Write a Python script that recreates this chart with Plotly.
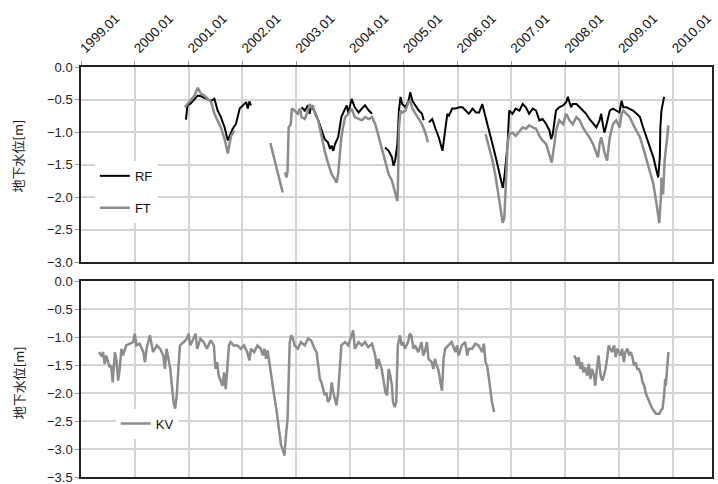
import plotly.graph_objects as go

# ---------------- data (decimal year, groundwater level m) ----------------
tick_years = [1999, 2000, 2001, 2002, 2003, 2004, 2005, 2006, 2007, 2008, 2009, 2010]
tick_labels = ["1999.01", "2000.01", "2001.01", "2002.01", "2003.01", "2004.01",
               "2005.01", "2006.01", "2007.01", "2008.01", "2009.01", "2010.01"]

rf_year = [2000.95, 2000.98, 2001.04, 2001.11, 2001.17, 2001.23, 2001.29, 2001.35, 2001.42, 2001.48,
           2001.54, 2001.60, 2001.67, 2001.73, 2001.76, 2001.82, 2001.88, 2001.95, 2002.01, 2002.07,
           2002.10, 2002.13, 2002.16, None,
           2003.10, 2003.16, 2003.22, 2003.25, 2003.28, 2003.35, 2003.41, 2003.47, 2003.53, 2003.59,
           2003.63, 2003.66, 2003.69, 2003.72, 2003.78, 2003.81, 2003.84, 2003.91, 2003.94, 2003.97,
           2004.03, 2004.09, 2004.16, 2004.22, 2004.28, 2004.35, 2004.41, None,
           2004.65, 2004.72, 2004.78, 2004.81, 2004.84, 2004.88, 2004.91, 2004.94, 2004.97, 2005.03,
           2005.09, 2005.12, 2005.16, 2005.22, 2005.28, 2005.34, 2005.37, None,
           2005.47, 2005.53, 2005.59, 2005.65, 2005.72, 2005.75, 2005.78, 2005.81, 2005.84, 2005.90,
           2005.96, 2006.03, 2006.09, 2006.15, 2006.21, 2006.28, 2006.34, 2006.40, 2006.46, 2006.52,
           2006.59, 2006.65, 2006.71, 2006.77, 2006.84, 2006.87, 2006.90, 2006.93, 2006.96, 2007.02,
           2007.08, 2007.15, 2007.21, 2007.27, 2007.33, 2007.40, 2007.46, 2007.52, 2007.58, 2007.65,
           2007.71, 2007.74, 2007.77, 2007.80, 2007.83, 2007.89, 2007.96, 2008.02, 2008.05, 2008.08,
           2008.11, 2008.14, 2008.21, 2008.27, 2008.33, 2008.39, 2008.45, 2008.52, 2008.58, 2008.64,
           2008.67, 2008.70, 2008.73, 2008.77, 2008.83, 2008.89, 2008.95, 2009.01, 2009.05, 2009.08,
           2009.14, 2009.20, 2009.26, 2009.33, 2009.39, 2009.45, 2009.51, 2009.57, 2009.64, 2009.70,
           2009.73, 2009.76, 2009.77, 2009.79, 2009.82, 2009.84]
rf_level = [-0.81, -0.59, -0.56, -0.49, -0.44, -0.45, -0.47, -0.49, -0.52, -0.49,
            -0.67, -0.77, -0.93, -1.13, -1.06, -0.95, -0.88, -0.64, -0.59, -0.54,
            -0.64, -0.53, -0.59, None,
            -0.62, -0.67, -0.59, -0.72, -0.59, -0.70, -0.82, -0.98, -1.11, -1.16,
            -1.26, -1.21, -1.29, -1.19, -1.08, -0.93, -0.77, -0.64, -0.59, -0.72,
            -0.49, -0.62, -0.70, -0.64, -0.59, -0.67, -0.72, None,
            -1.24, -1.29, -1.39, -1.52, -1.44, -1.19, -0.67, -0.46, -0.57, -0.62,
            -0.52, -0.39, -0.52, -0.59, -0.67, -0.72, -0.82, None,
            -0.85, -0.80, -0.95, -1.08, -1.29, -1.08, -0.88, -0.72, -0.75, -0.64,
            -0.64, -0.62, -0.62, -0.67, -0.72, -0.64, -0.70, -0.70, -0.57, -0.77,
            -0.98, -1.19, -1.39, -1.60, -1.86, -1.70, -1.44, -1.19, -0.67, -0.72,
            -0.64, -0.67, -0.57, -0.62, -0.72, -0.64, -0.67, -0.82, -0.80, -0.88,
            -0.98, -1.11, -1.03, -0.82, -0.67, -0.62, -0.59, -0.54, -0.46, -0.54,
            -0.62, -0.57, -0.57, -0.62, -0.67, -0.72, -0.80, -0.88, -0.93, -0.82,
            -0.72, -0.88, -1.01, -0.88, -0.67, -0.64, -0.67, -0.70, -0.52, -0.62,
            -0.62, -0.64, -0.67, -0.72, -0.77, -0.93, -1.08, -1.24, -1.39, -1.60,
            -1.70, -1.39, -0.93, -0.67, -0.54, -0.46]

ft_year = [2000.93, 2000.98, 2001.04, 2001.11, 2001.17, 2001.23, 2001.29, 2001.35, 2001.42, 2001.48,
           2001.54, 2001.60, 2001.67, 2001.73, 2001.76, 2001.79, 2001.85, None,
           2002.52, 2002.75, None,
           2002.79, 2002.82, 2002.84, 2002.86, 2002.90, 2002.92, 2002.97, 2003.00, 2003.03, 2003.07,
           2003.10, 2003.16, 2003.22, 2003.25, 2003.28, 2003.31, 2003.35, 2003.41, 2003.47, 2003.53,
           2003.59, 2003.66, 2003.72, 2003.75, 2003.78, 2003.81, 2003.84, 2003.87, 2003.91, 2003.97,
           2004.03, 2004.09, 2004.16, 2004.22, 2004.28, 2004.35, 2004.41, 2004.47, 2004.53, 2004.60,
           2004.66, 2004.72, 2004.78, 2004.84, 2004.88, 2004.89, 2004.91, 2004.94, 2004.97, 2005.03,
           2005.09, 2005.12, 2005.16, 2005.22, 2005.28, 2005.34, 2005.40, 2005.45, None,
           2006.52, 2006.59, 2006.65, 2006.71, 2006.77, 2006.80, 2006.84, 2006.87, 2006.90, 2006.93,
           2006.96, 2007.02, 2007.08, 2007.15, 2007.21, 2007.27, 2007.33, 2007.40, 2007.46, 2007.52,
           2007.58, 2007.65, 2007.71, 2007.75, 2007.80, 2007.83, 2007.89, 2007.96, 2008.02, 2008.08,
           2008.14, 2008.21, 2008.27, 2008.33, 2008.39, 2008.45, 2008.52, 2008.58, 2008.61, 2008.64,
           2008.67, 2008.70, 2008.73, 2008.78, 2008.83, 2008.89, 2008.95, 2009.01, 2009.05, 2009.08,
           2009.14, 2009.20, 2009.26, 2009.33, 2009.39, 2009.45, 2009.51, 2009.57, 2009.64, 2009.70,
           2009.75, 2009.78, 2009.79, 2009.82, 2009.85, 2009.89, 2009.92]
ft_level = [-0.62, -0.57, -0.52, -0.44, -0.32, -0.41, -0.44, -0.49, -0.54, -0.72,
            -0.82, -0.93, -1.11, -1.33, -1.19, -1.06, -0.98, None,
            -1.17, -1.93, None,
            -1.62, -1.70, -1.60, -0.93, -0.88, -0.64, -0.67, -0.70, -0.72, -0.64,
            -0.77, -0.80, -0.67, -0.57, -0.62, -0.59, -0.72, -0.82, -1.06, -1.29,
            -1.47, -1.65, -1.73, -1.78, -1.65, -1.34, -1.08, -0.93, -0.77, -0.72,
            -0.64, -0.77, -0.80, -0.82, -0.77, -0.80, -0.77, -0.88, -1.06, -1.29,
            -1.49, -1.65, -1.75, -1.96, -2.06, -1.91, -0.93, -0.67, -0.70, -0.67,
            -0.54, -0.52, -0.64, -0.72, -0.80, -0.88, -1.01, -1.16, None,
            -1.03, -1.24, -1.44, -1.70, -2.01, -2.22, -2.40, -2.32, -1.70, -1.19,
            -1.03, -1.01, -1.06, -0.98, -0.93, -0.95, -0.90, -0.93, -0.95, -1.06,
            -1.13, -1.19, -1.34, -1.47, -1.19, -0.98, -0.82, -0.88, -0.72, -0.82,
            -0.88, -0.77, -0.82, -0.93, -1.01, -1.08, -1.19, -1.31, -1.39, -1.19,
            -1.08, -1.19, -1.31, -1.44, -1.08, -0.88, -0.82, -0.93, -0.72, -0.67,
            -0.72, -0.77, -0.88, -0.98, -1.08, -1.24, -1.42, -1.57, -1.80, -2.11,
            -2.40, -2.01, -1.70, -1.96, -1.44, -1.13, -0.90]

kv_year = [1999.33, 1999.38, 1999.41, 1999.44, 1999.47, 1999.50, 1999.53, 1999.56, 1999.59, 1999.63,
           1999.66, 1999.69, 1999.72, 1999.75, 1999.78, 1999.84, 1999.91, 1999.97, 2000.00, 2000.03,
           2000.09, 2000.16, 2000.19, 2000.22, 2000.28, 2000.31, 2000.34, 2000.41, 2000.47, 2000.53,
           2000.56, 2000.59, 2000.63, 2000.66, 2000.69, 2000.72, 2000.75, 2000.78, 2000.81, 2000.84,
           2000.91, 2000.97, 2001.00, 2001.03, 2001.09, 2001.13, 2001.16, 2001.22, 2001.28, 2001.34,
           2001.41, 2001.47, 2001.50, 2001.53, 2001.56, 2001.63, 2001.66, 2001.69, 2001.72, 2001.75,
           2001.78, 2001.84, 2001.91, 2001.97, 2002.03, 2002.09, 2002.13, 2002.16, 2002.22, 2002.28,
           2002.34, 2002.38, 2002.41, 2002.44, 2002.47, 2002.50, 2002.53, 2002.56, 2002.59, 2002.63,
           2002.66, 2002.69, 2002.72, 2002.75, 2002.78, 2002.81, 2002.84, 2002.88, 2002.91, 2002.94,
           2002.97, 2003.03, 2003.09, 2003.16, 2003.22, 2003.28, 2003.34, 2003.38, 2003.41, 2003.44,
           2003.47, 2003.50, 2003.53, 2003.56, 2003.59, 2003.63, 2003.66, 2003.69, 2003.72, 2003.75,
           2003.78, 2003.81, 2003.84, 2003.91, 2003.97, 2004.03, 2004.06, 2004.09, 2004.16, 2004.22,
           2004.28, 2004.34, 2004.41, 2004.47, 2004.50, 2004.53, 2004.59, 2004.66, 2004.69, 2004.72,
           2004.75, 2004.78, 2004.80, 2004.83, 2004.86, 2004.89, 2004.93, 2004.96, 2004.99, 2005.02,
           2005.08, 2005.11, 2005.14, 2005.18, 2005.21, 2005.27, 2005.33, 2005.36, 2005.39, 2005.43,
           2005.46, 2005.52, 2005.55, 2005.58, 2005.61, 2005.64, 2005.68, 2005.71, 2005.74, 2005.77,
           2005.83, 2005.89, 2005.96, 2005.99, 2006.02, 2006.08, 2006.14, 2006.18, 2006.21, 2006.27,
           2006.33, 2006.39, 2006.46, 2006.49, 2006.52, 2006.55, 2006.58, 2006.61, 2006.64, 2006.68, None,
           2008.17, 2008.20, 2008.22, 2008.25, 2008.28, 2008.31, 2008.34, 2008.37, 2008.41, 2008.44,
           2008.47, 2008.50, 2008.53, 2008.56, 2008.59, 2008.62, 2008.66, 2008.69, 2008.72, 2008.75,
           2008.78, 2008.81, 2008.84, 2008.87, 2008.91, 2008.94, 2008.97, 2009.00, 2009.03, 2009.06,
           2009.09, 2009.12, 2009.16, 2009.19, 2009.22, 2009.25, 2009.28, 2009.31, 2009.34, 2009.37,
           2009.41, 2009.44, 2009.47, 2009.50, 2009.56, 2009.62, 2009.69, 2009.75, 2009.78, 2009.81,
           2009.84, 2009.86, 2009.87, 2009.91, 2009.92]
kv_level = [-1.27, -1.33, -1.27, -1.48, -1.33, -1.42, -1.54, -1.51, -1.81, -1.27,
            -1.42, -1.78, -1.57, -1.21, -1.33, -1.15, -1.12, -1.09, -0.94, -1.15,
            -1.12, -1.27, -1.45, -1.21, -0.97, -1.15, -1.27, -1.15, -1.21, -1.33,
            -1.57, -1.21, -1.39, -1.57, -1.87, -2.16, -2.28, -2.04, -1.57, -1.15,
            -1.09, -1.03, -0.94, -1.15, -1.03, -0.94, -1.21, -1.03, -1.09, -1.21,
            -1.06, -1.15, -1.57, -1.45, -1.69, -1.87, -1.63, -1.93, -1.57, -1.15,
            -1.09, -1.15, -1.15, -1.21, -1.15, -1.27, -1.42, -1.21, -1.27, -1.15,
            -1.21, -1.33, -1.21, -1.39, -1.24, -1.45, -1.69, -1.87, -2.04, -2.28,
            -2.52, -2.76, -2.94, -3.00, -3.12, -2.76, -2.46, -1.09, -0.97, -1.03,
            -1.15, -1.21, -1.09, -1.15, -1.03, -1.06, -1.21, -1.27, -1.57, -1.75,
            -1.81, -1.93, -2.04, -1.99, -2.16, -2.10, -1.81, -1.99, -2.10, -2.22,
            -1.99, -1.57, -1.15, -1.09, -1.15, -0.97, -0.88, -1.21, -1.09, -1.15,
            -1.09, -1.18, -1.12, -1.33, -1.57, -1.39, -1.57, -1.99, -2.04, -1.57,
            -1.69, -1.87, -2.16, -2.25, -2.16, -1.15, -0.97, -1.15, -1.09, -1.21,
            -1.09, -0.94, -0.97, -1.21, -1.15, -1.27, -1.09, -1.33, -1.27, -1.09,
            -1.39, -1.45, -1.57, -1.39, -1.51, -1.57, -1.81, -1.96, -1.39, -1.21,
            -1.15, -1.09, -1.27, -1.15, -1.33, -1.15, -1.09, -1.33, -1.21, -1.21,
            -1.12, -1.15, -1.27, -1.12, -1.45, -1.51, -1.72, -1.93, -2.16, -2.34, None,
            -1.33, -1.39, -1.51, -1.36, -1.57, -1.45, -1.63, -1.54, -1.69, -1.48,
            -1.75, -1.57, -1.66, -1.87, -1.57, -1.33, -1.69, -1.78, -1.69, -1.57,
            -1.39, -1.15, -1.21, -1.27, -1.15, -1.36, -1.21, -1.27, -1.33, -1.21,
            -1.45, -1.27, -1.21, -1.33, -1.27, -1.36, -1.51, -1.45, -1.57, -1.57,
            -1.66, -1.81, -1.87, -2.01, -2.16, -2.28, -2.37, -2.37, -2.31, -2.28,
            -2.04, -1.75, -1.87, -1.33, -1.27]

# ---------------- figure ----------------
NUM_FONT = "Liberation Sans, Arial, sans-serif"
JP_FONT = "Noto Sans CJK JP, sans-serif"
GRID = "#d4d4d4"
GRAY = "#8c8c8c"

fig = go.Figure()
fig.add_trace(go.Scatter(x=rf_year, y=rf_level, mode="lines", name="RF",
                         line=dict(color="#000000", width=2), connectgaps=False,
                         xaxis="x", yaxis="y", legend="legend", legendgroup="rf"))
fig.add_trace(go.Scatter(x=ft_year, y=ft_level, mode="lines", name="FT",
                         line=dict(color=GRAY, width=2.5), connectgaps=False,
                         xaxis="x", yaxis="y", legend="legend", legendgroup="ft"))
fig.add_trace(go.Scatter(x=kv_year, y=kv_level, mode="lines", name="KV",
                         line=dict(color=GRAY, width=2.5), connectgaps=False,
                         xaxis="x2", yaxis="y2", legend="legend2"))

x_common = dict(range=[1999, 2010.73], tickmode="array", tickvals=tick_years,
                showgrid=True, gridcolor=GRID, gridwidth=1.5, zeroline=False, automargin=False,
                showline=True, linecolor="#222222", linewidth=1.5, mirror=True)
y_common = dict(dtick=0.5, tickformat=".1f", showgrid=True, gridcolor=GRID, gridwidth=1.5,
                zeroline=False, showline=True, linecolor="#222222", linewidth=1.5, mirror=True,
                ticks="outside", ticklen=4, tickcolor="#999999", automargin=False,
                ticklabeloverflow="allow",
                tickfont=dict(family=NUM_FONT, size=13, color="#222222"))

fig.update_layout(
    width=718, height=484,
    margin=dict(l=81, r=6, t=67, b=7, autoexpand=False),
    paper_bgcolor="white", plot_bgcolor="white",
    xaxis=dict(**x_common, anchor="y", side="top", ticktext=tick_labels, tickangle=-45,
               ticks="outside", ticklen=4, tickcolor="#999999", ticklabeloverflow="allow",
               tickfont=dict(family=NUM_FONT, size=13.5, color="#111111")),
    xaxis2=dict(**x_common, anchor="y2", matches="x", showticklabels=False, ticks=""),
    yaxis=dict(**y_common, domain=[0.5244, 1.0], range=[-3.0, 0.0]),
    yaxis2=dict(**y_common, domain=[0.0, 0.478], range=[-3.5, 0.0]),
    legend=dict(x=0.022, y=0.771, xanchor="left", yanchor="top", bgcolor="white",
                font=dict(family=NUM_FONT, size=13, color="#111111"),
                tracegroupgap=12, itemwidth=30),
    legend2=dict(x=0.055, y=0.167, xanchor="left", yanchor="top", bgcolor="white",
                 font=dict(family=NUM_FONT, size=13, color="#111111"), itemwidth=30),
    showlegend=True,
)

# slightly darker reference line at -1.5 in the lower panel
fig.add_shape(type="line", xref="x2 domain", yref="y2", x0=0, x1=1, y0=-1.5, y1=-1.5,
              line=dict(color="#a6a6a6", width=1.5), layer="below")

for ypos in [(0.5244 + 1.0) / 2 + 0.022, 0.478 / 2 - 0.008]:
    fig.add_annotation(text="地下水位[m]", xref="paper", yref="paper", x=-0.1, y=ypos,
                       textangle=-90, showarrow=False, xanchor="center", yanchor="middle",
                       font=dict(family=JP_FONT, size=13, color="#222222"))

fig.write_html("out.html", config={"displayModeBar": False},
               post_script="document.body.style.margin='0';")
